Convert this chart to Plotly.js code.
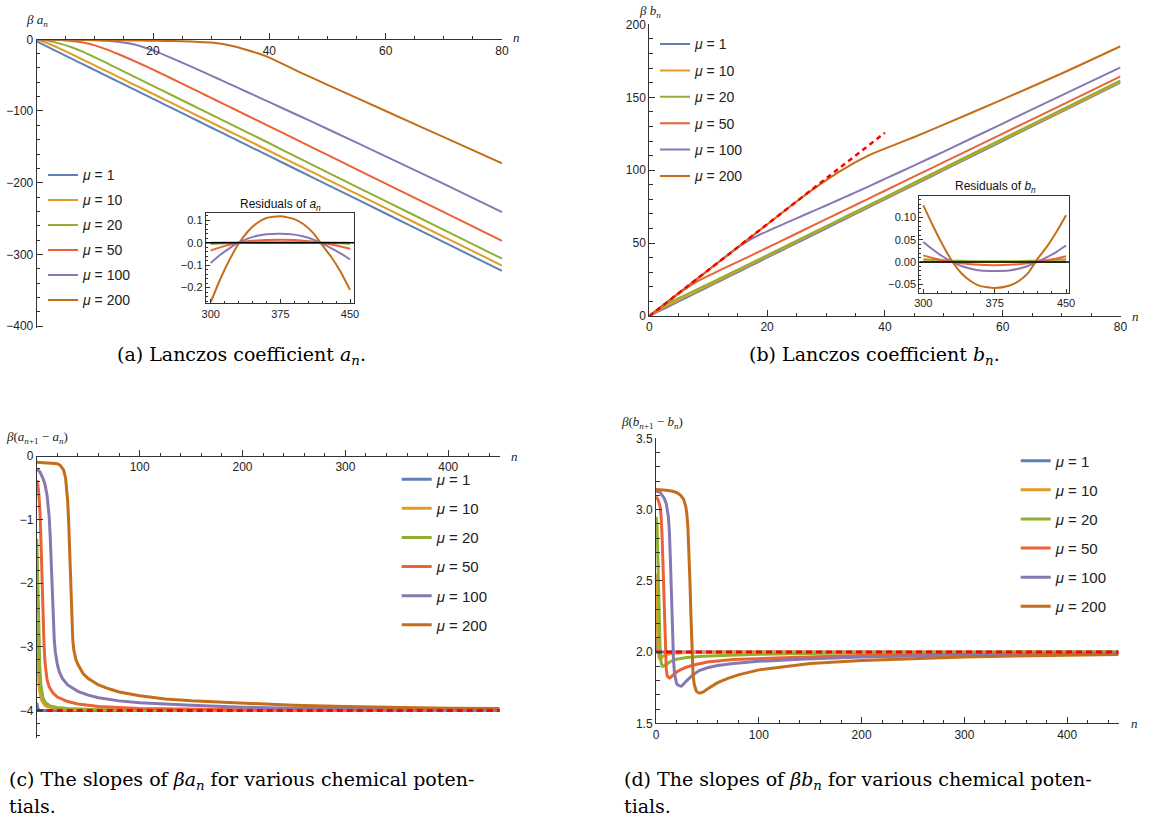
<!DOCTYPE html>
<html><head><meta charset="utf-8">
<script src="https://cdn.plot.ly/plotly-3.0.1.min.js"></script>
<style>html,body{margin:0;padding:0;background:#fff;}#chart{width:1153px;height:821px;}</style>
</head><body><div id="chart"></div>
<script>
// ================= DATA =================
const muNames = ['<i>μ</i> = 1','<i>μ</i> = 10','<i>μ</i> = 20','<i>μ</i> = 50','<i>μ</i> = 100','<i>μ</i> = 200'];

// (a) beta a_n
const nA = [0,2,4,6,8,10,12,14,16,18,20,22,25,28,30,32,34,36,38,40,45,50,60,70,80];
const aMu1   = [-3,-11,-19,-27,-35,-43,-51,-59,-67,-75,-83,-91,-103,-115,-123,-131,-139,-147,-155,-163,-183,-203,-243,-283,-323];
const aMu10  = [0,-5.8,-13.1,-20.8,-28.6,-36.5,-44.4,-52.3,-60.3,-68.2,-76.1,-84.1,-96,-108,-115.9,-123.9,-131.9,-139.8,-147.8,-155.8,-175.8,-195.7,-235.6,-275.5,-315.5];
const aMu20  = [0,-2,-6,-11,-17.6,-25.2,-33,-41,-49,-57,-65,-73,-85,-97,-105,-113,-121,-129,-137,-145,-165.5,-185.6,-225.7,-265.9,-306];
const aMu50  = [0,-0.3,-1,-2.3,-4.6,-8.5,-14,-20.5,-27.5,-34.8,-42.4,-50.1,-61.9,-73.8,-81.7,-89.7,-97.6,-105.6,-113.5,-121.5,-141.4,-161.3,-201.2,-241.1,-281];
const aMu100 = [0,-0.2,-0.4,-0.6,-0.9,-1.3,-2,-3.5,-6,-10,-15.5,-22,-32.5,-43.3,-50.6,-58,-65.4,-72.8,-80.2,-87.6,-106.3,-125.1,-163.2,-201.7,-241];
const aMu200 = [0,-0.2,-0.4,-0.6,-0.8,-1,-1.2,-1.4,-1.6,-1.8,-2,-2.3,-2.8,-3.6,-4.5,-6.5,-10,-14.5,-19.5,-25.5,-45,-63.5,-100,-136.5,-173];

// (b) beta b_n
const nB = [0,2,4,6,8,10,12,14,16,18,20,22,25,28,30,32,34,36,38,40,45,50,60,70,80];
const bMu1   = [0,4,8,12,16,20,24,28,32,36,40,44,50,56,60,64,68,72,76,80,90,100,120,140,160];
const bMu10  = [0,4.9,8.9,12.9,16.8,20.8,24.8,28.8,32.8,36.8,40.8,44.8,50.8,56.8,60.8,64.8,68.7,72.7,76.7,80.7,90.7,100.6,120.6,140.6,160.6];
const bMu20  = [0,5.9,10.3,14.2,18.1,22,25.9,29.9,33.8,37.8,41.7,45.7,51.7,57.6,61.6,65.6,69.6,73.6,77.6,81.6,91.6,101.6,121.6,141.6,161.6];
const bMu50  = [0,6.2,12.4,18.3,23.4,27.5,31.4,35.2,39,42.9,46.8,50.7,56.6,62.5,66.4,70.3,74.2,78.1,82,85.9,95.7,105.5,125.1,144.7,164.3];
const bMu100 = [0,6.3,12.6,18.8,25.1,31.4,37.7,43.9,49.7,54.3,58.1,61.7,67,72.3,75.8,79.4,83,86.6,90.3,94,103.3,112.8,132,151.3,170.5];
const bMu200 = [0,6.3,12.6,18.8,25.1,31.4,37.7,44,50.3,56.5,62.8,69.1,78.5,87.5,93,98.3,103.2,107.6,111.5,114.8,122.8,131.3,148.6,166.3,185];
const bDashN = [0,40];
const bDash  = [0,125.7];

// insets: residuals
const nRes = [300,310,320,330,340,350,360,375,390,400,410,420,430,440,450];
const resA1   = [0,0,0,0,0,0,0,0,0,0,0,0,0,0,0];
const resA10  = [-0.002,-0.001,0,0,0.001,0.001,0.001,0.001,0.001,0.001,0.001,0,0,-0.001,-0.002];
const resA20  = [-0.006,-0.004,-0.002,0,0.001,0.002,0.002,0.002,0.002,0.002,0.001,0,-0.001,-0.003,-0.005];
const resA50  = [-0.035,-0.021,-0.009,0,0.006,0.01,0.012,0.013,0.012,0.009,0.005,-0.001,-0.008,-0.017,-0.027];
const resA100 = [-0.09,-0.055,-0.025,0,0.018,0.031,0.038,0.04,0.036,0.028,0.015,-0.003,-0.025,-0.048,-0.075];
const resA200 = [-0.265,-0.165,-0.078,-0.005,0.05,0.088,0.11,0.118,0.105,0.082,0.045,-0.01,-0.065,-0.13,-0.21];
const resB1   = [0,0,0,0,0,0,0,0,0,0,0,0,0,0,0];
const resB10  = [0.002,0.002,0.001,0.001,0,0,0,0,0,0,0,0.001,0.001,0.002,0.002];
const resB20  = [0.006,0.005,0.004,0.003,0.003,0.002,0.002,0.002,0.002,0.002,0.003,0.003,0.004,0.005,0.006];
const resB50  = [0.015,0.009,0.004,0,-0.003,-0.005,-0.006,-0.007,-0.006,-0.005,-0.003,0,0.004,0.008,0.013];
const resB100 = [0.045,0.028,0.013,0.001,-0.009,-0.015,-0.019,-0.02,-0.019,-0.015,-0.009,0.001,0.011,0.023,0.037];
const resB200 = [0.127,0.082,0.04,0.003,-0.025,-0.043,-0.054,-0.058,-0.053,-0.043,-0.025,0.007,0.035,0.068,0.105];

// (c) beta (a_{n+1} - a_n)
const cN1 = [0,1,2,3,5,450];
const c1  = [-3.88,-3.97,-3.99,-4,-4,-4];
const cN10 = [0,1,2,3,4,5,6,8,10,15,20,30,50,100,200,450];
const c10  = [-2.6,-3.2,-3.55,-3.72,-3.8,-3.85,-3.88,-3.92,-3.94,-3.96,-3.975,-3.985,-3.99,-3.995,-4,-4];
const cN20 = [0,1,2,3,4,5,6,8,10,12,15,20,30,40,60,100,200,450];
const c20  = [-1.3,-2.2,-2.9,-3.35,-3.6,-3.72,-3.8,-3.87,-3.9,-3.92,-3.94,-3.955,-3.97,-3.98,-3.99,-3.995,-4,-4];
const cN50 = [0,1,2,3,4,5,6,7,8,9,10,12,14,16,20,25,30,40,60,100,150,200,300,450];
const c50  = [-0.38,-0.45,-0.6,-0.85,-1.3,-1.9,-2.5,-2.95,-3.25,-3.42,-3.52,-3.63,-3.69,-3.73,-3.79,-3.83,-3.86,-3.9,-3.94,-3.97,-3.985,-3.99,-3.995,-4];
const cN100 = [0,3,6,8,10,11,12,13,14,15,16,17,18,19,20,22,25,30,40,50,60,80,100,150,200,250,300,350,400,450];
const c100  = [-0.2,-0.25,-0.35,-0.45,-0.62,-0.75,-0.95,-1.25,-1.65,-2.15,-2.6,-2.9,-3.08,-3.2,-3.28,-3.4,-3.5,-3.6,-3.7,-3.76,-3.8,-3.85,-3.88,-3.92,-3.95,-3.965,-3.975,-3.98,-3.985,-3.99];
const cN200 = [0,5,10,15,20,23,26,28,29,30,31,32,33,34,35,36,38,40,45,50,60,70,80,100,125,150,200,250,300,350,400,450];
const c200  = [-0.1,-0.1,-0.11,-0.115,-0.12,-0.15,-0.22,-0.35,-0.48,-0.7,-1.05,-1.6,-2.2,-2.65,-2.9,-3.05,-3.2,-3.28,-3.42,-3.5,-3.6,-3.66,-3.71,-3.77,-3.82,-3.85,-3.89,-3.92,-3.94,-3.955,-3.965,-3.97];
const cDashN = [0,450];
const cDash  = [-4,-4];

// (d) beta (b_{n+1} - b_n)
const dN1 = [0,1,2,3,450];
const d1  = [2.1,2.02,2.005,2,2];
const dN10 = [0,1,2,3,4,5,6,8,10,15,20,30,50,100,450];
const d10  = [2.55,2.2,2.02,1.96,1.95,1.955,1.965,1.975,1.982,1.99,1.993,1.996,1.998,2,2];
const dN20 = [0,1,2,3,4,5,6,7,8,10,12,15,20,30,45,75,100,150,200,450];
const d20  = [2.95,2.9,2.6,2.25,2.02,1.93,1.9,1.9,1.905,1.915,1.925,1.937,1.95,1.962,1.97,1.978,1.984,1.99,1.995,2];
const dN50 = [0,2,4,5,6,7,8,9,10,11,12,13,14,16,18,20,25,30,40,50,75,100,140,200,300,450];
const d50  = [3.09,3.07,3.02,2.95,2.8,2.55,2.25,2.0,1.88,1.83,1.82,1.818,1.822,1.835,1.848,1.86,1.88,1.895,1.915,1.93,1.947,1.955,1.963,1.975,1.985,1.992];
const dN100 = [0,4,8,10,12,13,14,15,16,17,18,19,20,21,22,23,24,25,27,30,35,42,50,60,75,100,140,200,300,450];
const d100  = [3.13,3.12,3.08,3.04,2.95,2.85,2.65,2.4,2.15,1.95,1.85,1.8,1.78,1.77,1.765,1.762,1.76,1.762,1.775,1.8,1.835,1.87,1.89,1.905,1.92,1.935,1.95,1.965,1.98,1.99];
const dN200 = [0,5,10,15,20,24,27,29,30,31,32,33,34,35,36,37,38,39,40,41,42,43,44,46,50,55,60,70,80,100,125,150,200,250,300,350,400,450];
const d200  = [3.14,3.14,3.135,3.13,3.12,3.1,3.07,3.02,2.97,2.88,2.72,2.5,2.25,2.0,1.85,1.78,1.745,1.73,1.72,1.715,1.712,1.712,1.714,1.72,1.74,1.765,1.785,1.815,1.84,1.875,1.9,1.92,1.94,1.955,1.965,1.972,1.977,1.982];
const dDashN = [0,450];
const dDash  = [2,2];

// ================= STYLE / LAYOUT =================
const W = 1153, H = 821;
const COLORS = ['#5E81B5','#E19C24','#8FB032','#EB6235','#8778B3','#C56E1A'];
const SANS = "'Liberation Sans', Arial, sans-serif";
const SERIF = "'Liberation Serif', 'Times New Roman', serif";
const CAPSERIF = "'DejaVu Serif', serif";
const AX = '#333';
const px = p => p / W;
const py = p => 1 - p / H;

const traces = [];
function addSet(xs, ys, xa, ya, width, legendId, shape, show) {
  ys.forEach((y, i) => {
    const x = Array.isArray(xs[0]) ? xs[i] : xs;
    traces.push({
      type: 'scatter', mode: 'lines', x: x, y: y, xaxis: xa, yaxis: ya,
      name: muNames[i], legend: legendId, legendgroup: legendId + '_' + i,
      showlegend: show, hoverinfo: 'skip',
      line: {color: COLORS[i], width: width, shape: shape, smoothing: 0.6}
    });
  });
}
addSet(nA, [aMu1,aMu10,aMu20,aMu50,aMu100,aMu200], 'x', 'y', 2, 'legend', 'spline', true);
addSet(nB, [bMu1,bMu10,bMu20,bMu50,bMu100,bMu200], 'x2', 'y2', 2, 'legend2', 'spline', true);
traces.push({type:'scatter', mode:'lines', x:bDashN, y:bDash, xaxis:'x2', yaxis:'y2', showlegend:false, hoverinfo:'skip',
  line:{color:'#FF0000', width:2.5, dash:'5px,4px'}});
addSet([cN1,cN10,cN20,cN50,cN100,cN200], [c1,c10,c20,c50,c100,c200], 'x3', 'y3', 3, 'legend3', 'linear', true);
traces.push({type:'scatter', mode:'lines', x:cDashN, y:cDash, xaxis:'x3', yaxis:'y3', showlegend:false, hoverinfo:'skip',
  line:{color:'#FF0000', width:3, dash:'6px,4px'}});
addSet([dN1,dN10,dN20,dN50,dN100,dN200], [d1,d10,d20,d50,d100,d200], 'x4', 'y4', 3, 'legend4', 'linear', true);
traces.push({type:'scatter', mode:'lines', x:dDashN, y:dDash, xaxis:'x4', yaxis:'y4', showlegend:false, hoverinfo:'skip',
  line:{color:'#FF0000', width:3, dash:'6px,4px'}});
addSet(nRes, [resA1,resA10,resA20,resA50,resA100,resA200], 'x5', 'y5', 2, 'legend', 'spline', false);
addSet(nRes, [resB1,resB10,resB20,resB50,resB100,resB200], 'x6', 'y6', 2, 'legend2', 'spline', false);

const tickFont = {family: SANS, size: 12, color: '#222'};
const insetFont = {family: SANS, size: 11, color: '#222'};
function axis(o) {
  return Object.assign({
    showgrid: false, zeroline: false, showline: true, linecolor: AX, linewidth: 1,
    tickcolor: AX, tickwidth: 1, tickfont: tickFont, fixedrange: true, tickmode: 'array'
  }, o);
}
function minor(d, len, t) { return {tickmode: 'linear', tick0: 0, dtick: d, ticklen: len, ticks: t, tickcolor: AX, tickwidth: 1}; }

const layout = {
  width: W, height: H, margin: {l:0, r:0, t:0, b:0},
  paper_bgcolor: '#fff', plot_bgcolor: 'rgba(0,0,0,0)', showlegend: true,
  font: {family: SANS},
  // (a): x axis drawn at the top edge (y = 0), ticks pointing up, labels below
  xaxis: axis({domain:[px(36.7), px(502)], range:[0,80], anchor:'free', position: py(39.3), side:'bottom', ticks:'inside', ticklen:6,
    tickvals:[20,40,60,80], minor: minor(5, 3.5, 'inside')}),
  yaxis: axis({domain:[py(327.5), py(39.3)], range:[-402,0], anchor:'x', ticks:'inside', ticklen:6,
    tickvals:[0,-100,-200,-300,-400], minor: minor(20, 3.5, 'inside')}),
  // (b)
  xaxis2: axis({domain:[px(649.3), px(1120.5)], range:[0,80], anchor:'y2', ticks:'inside', ticklen:6,
    tickvals:[0,20,40,60,80], minor: minor(5, 3.5, 'inside')}),
  yaxis2: axis({domain:[py(316), py(24.4)], range:[0,200], anchor:'x2', ticks:'inside', ticklen:6,
    tickvals:[0,50,100,150,200], minor: minor(10, 3.5, 'inside')}),
  // (c)
  xaxis3: axis({domain:[px(36.8), px(499.7)], range:[0,450], anchor:'free', position: py(456), side:'bottom', ticks:'inside', ticklen:6,
    tickvals:[100,200,300,400], minor: minor(20, 3.5, 'inside')}),
  yaxis3: axis({domain:[py(738.4), py(456)], range:[-4.44,0], anchor:'x3', ticks:'inside', ticklen:6,
    tickvals:[0,-1,-2,-3,-4], minor: minor(0.2, 3.5, 'inside')}),
  // (d)
  xaxis4: axis({domain:[px(656), px(1118.6)], range:[0,450], anchor:'y4', ticks:'inside', ticklen:6,
    tickvals:[0,100,200,300,400], minor: minor(20, 3.5, 'inside')}),
  yaxis4: axis({domain:[py(723.3), py(438.3)], range:[1.5,3.5], anchor:'x4', ticks:'inside', ticklen:6,
    tickvals:[1.5,2,2.5,3,3.5], tickformat:'.1f', minor: minor(0.1, 3.5, 'inside')}),
  // inset a
  xaxis5: axis({domain:[px(205.7), px(354)], range:[294.6,454.3], anchor:'y5', mirror:true, ticks:'inside', ticklen:4,
    tickvals:[300,375,450], tickfont: insetFont, minor: minor(15, 2, 'inside')}),
  yaxis5: axis({domain:[py(303.3), py(213.3)], range:[-0.27,0.131], anchor:'x5', mirror:true, ticks:'inside', ticklen:4,
    tickvals:[-0.2,-0.1,0,0.1], tickformat:'.1f', tickfont: insetFont, minor: minor(0.02, 2, 'inside')}),
  // inset b
  xaxis6: axis({domain:[px(919.3), px(1069.3)], range:[295.8,453.4], anchor:'y6', mirror:true, ticks:'inside', ticklen:4,
    tickvals:[300,375,450], tickfont: insetFont, minor: minor(15, 2, 'inside')}),
  yaxis6: axis({domain:[py(292.7), py(196)], range:[-0.0687,0.148], anchor:'x6', mirror:true, ticks:'inside', ticklen:4,
    tickvals:[-0.05,0,0.05,0.1], tickformat:'.2f', tickfont: insetFont, minor: minor(0.01, 2, 'inside')}),
  legend:  {x: px(43),    y: py(159.4), xanchor:'left', yanchor:'top', bgcolor:'rgba(0,0,0,0)', traceorder:'grouped',
            tracegroupgap: 3.8, itemwidth: 30, font:{family:SANS, size:14, color:'#222'}},
  legend2: {x: px(655),   y: py(28.4),  xanchor:'left', yanchor:'top', bgcolor:'rgba(0,0,0,0)', traceorder:'grouped',
            tracegroupgap: 5.2, itemwidth: 30, font:{family:SANS, size:14, color:'#222'}},
  legend3: {x: px(396.7), y: py(463),   xanchor:'left', yanchor:'top', bgcolor:'rgba(0,0,0,0)', traceorder:'grouped',
            tracegroupgap: 6.6, itemwidth: 30, font:{family:SANS, size:15, color:'#222'}},
  legend4: {x: px(1015.7),y: py(444.5), xanchor:'left', yanchor:'top', bgcolor:'rgba(0,0,0,0)', traceorder:'grouped',
            tracegroupgap: 6.6, itemwidth: 30, font:{family:SANS, size:15, color:'#222'}},
  shapes: [
    {type:'line', xref:'x5 domain', yref:'y5', x0:0, x1:1, y0:0, y1:0, layer:'above', line:{color:'#000', width:1.5}},
    {type:'line', xref:'x6 domain', yref:'y6', x0:0, x1:1, y0:0, y1:0, layer:'above', line:{color:'#000', width:1.5}}
  ],
  annotations: []
};

function ann(text, x, y, font, xanchor) {
  layout.annotations.push({text: text, xref:'paper', yref:'paper', x: px(x), y: py(y), showarrow:false,
    xanchor: xanchor || 'center', yanchor:'middle', font: Object.assign({}, font)});
}
const lblFont = {family: SERIF, size: 13, color: '#222'};
ann('<i>β a</i><sub><i>n</i></sub>', 37, 21, lblFont);
ann('<i>n</i>', 516, 37, lblFont);
ann('<i>β b</i><sub><i>n</i></sub>', 650, 11, lblFont);
ann('<i>n</i>', 1135, 316, lblFont);
ann('<i>β</i>(<i>a</i><sub><i>n</i>+1</sub> − <i>a</i><sub><i>n</i></sub>)', 37, 438, lblFont);
ann('<i>n</i>', 514, 456, lblFont);
ann('<i>β</i>(<i>b</i><sub><i>n</i>+1</sub> − <i>b</i><sub><i>n</i></sub>)', 652, 422, lblFont);
ann('<i>n</i>', 1134, 723, lblFont);
ann('Residuals of <i>a</i><sub><i>n</i></sub>', 280, 205, {family: SANS, size: 12, color:'#111'});
ann('Residuals of <i>b</i><sub><i>n</i></sub>', 995, 187, {family: SANS, size: 12, color:'#111'});
const capFont = {family: CAPSERIF, size: 19, color: '#000'};
ann('(a) Lanczos coefficient <i>a<sub>n</sub></i>.', 241, 355, capFont);
ann('(b) Lanczos coefficient <i>b<sub>n</sub></i>.', 874, 355, capFont);
ann('(c) The slopes of <i>βa<sub>n</sub></i> for various chemical poten-', 7, 780, capFont, 'left');
ann('tials.', 7, 806, capFont, 'left');
ann('(d) The slopes of <i>βb<sub>n</sub></i> for various chemical poten-', 622, 780, capFont, 'left');
ann('tials.', 622, 806, capFont, 'left');

Plotly.newPlot('chart', traces, layout, {displayModeBar: false, staticPlot: true});
</script>
</body></html>
